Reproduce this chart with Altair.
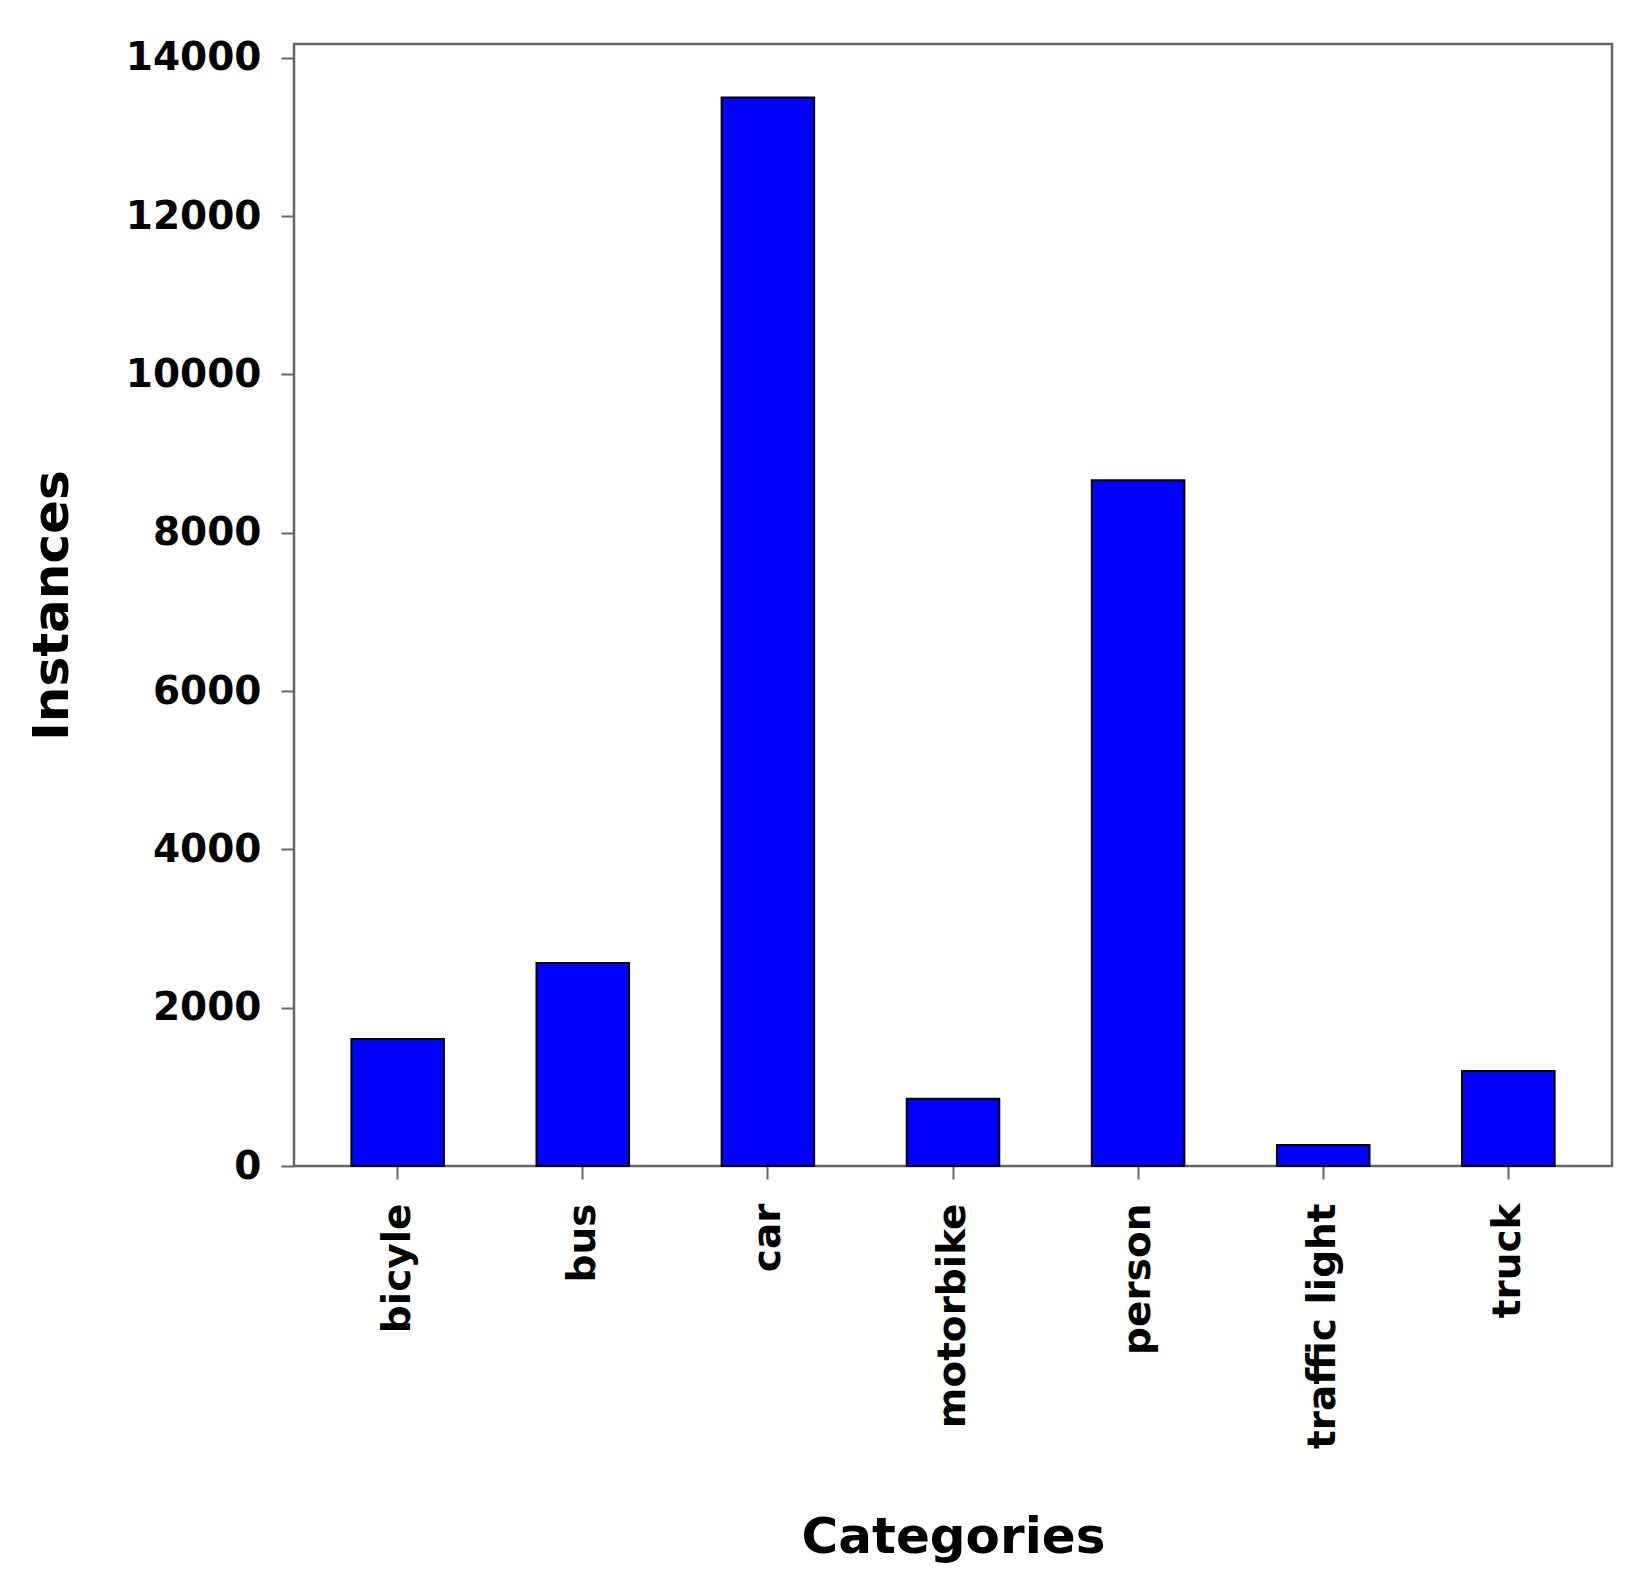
import altair as alt
import pandas as pd

categories = ["bicyle", "bus", "car", "motorbike", "person", "traffic light", "truck"]
instances = [1605, 2565, 13500, 850, 8665, 265, 1200]

df = pd.DataFrame({"Categories": categories, "Instances": instances})

FONT = "DejaVu Sans"

chart = alt.Chart(df).mark_bar(
    color="#0000ff", stroke="#000000", strokeWidth=2
).encode(
    x=alt.X(
        "Categories:N",
        sort=categories,
        scale=alt.Scale(paddingInner=0.5, paddingOuter=0.31),
        axis=alt.Axis(
            title="Categories",
            labelAngle=-90,
            labelFontSize=39,
            labelFontWeight="bold",
            labelColor="#000000",
            labelPadding=24,
            labelLimit=600,
            tickSize=13,
            tickColor="#666666",
            tickWidth=2,
            domain=False,
            titleFontSize=50,
            titleFontWeight="bold",
            titleColor="#000000",
            titlePadding=146,
        ),
    ),
    y=alt.Y(
        "Instances:Q",
        scale=alt.Scale(domain=[0, 14175], nice=False, zero=True),
        axis=alt.Axis(
            title="Instances",
            values=[0, 2000, 4000, 6000, 8000, 10000, 12000, 14000],
            format="d",
            grid=False,
            labelFontSize=39,
            labelFontWeight="bold",
            labelColor="#000000",
            labelPadding=20,
            tickSize=13,
            tickColor="#666666",
            tickWidth=2,
            domain=False,
            titleFontSize=50,
            titleFontWeight="bold",
            titleColor="#000000",
            titlePadding=48,
        ),
    ),
).properties(
    width=1318,
    height=1122,
    padding={"left": 19, "top": 30, "right": 5, "bottom": 5},
).configure(
    font=FONT,
    view=alt.ViewConfig(stroke="#666666", strokeWidth=2.5),
)

chart.save("out.html", embed_options={"renderer": "svg", "actions": False})
